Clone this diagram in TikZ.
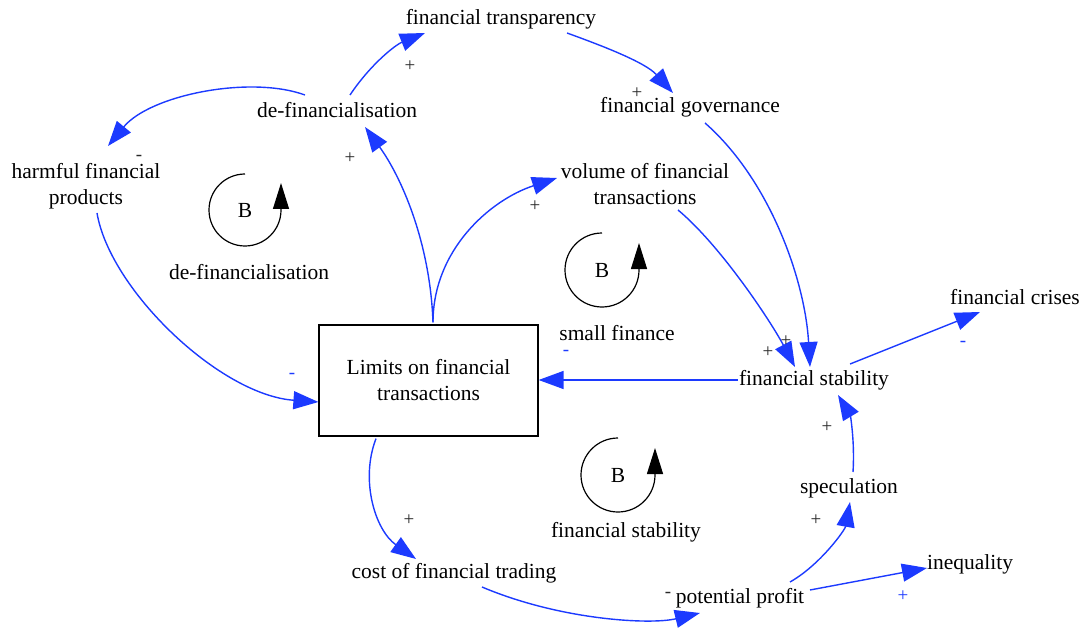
\documentclass[tikz,border=0pt]{standalone}
\usepackage{fontspec}
\setmainfont{Liberation Serif}
\usetikzlibrary{arrows.meta,calc}
\definecolor{linkblue}{RGB}{28,58,255}
\definecolor{signgray}{RGB}{40,40,40}
\begin{document}
\begin{tikzpicture}[x=1pt,y=1pt,
  var/.style={inner sep=1pt,align=center,font=\fontsize{21.5}{26}\selectfont},
  link/.style={draw=linkblue,line width=1.4pt,-{Triangle[length=25pt,width=18pt]},fill=none},
  pol/.style={inner sep=0pt,font=\fontsize{19}{20}\selectfont,text=signgray},
  polb/.style={pol,text=linkblue},
  loopar/.style={draw=black,line width=1.2pt,-{Triangle[length=26pt,width=16pt]}},
  looplbl/.style={inner sep=0pt,font=\fontsize{21.5}{26}\selectfont}]
\useasboundingbox (0,0) rectangle (1086,-628);
% variables
\node[var] (ft) at (501,-19) {financial transparency};
\node[var] (df) at (337,-110) {de-financialisation};
\node[var] (fg) at (690,-107) {financial governance};
\node[var] (hp) at (86,-186) {harmful financial\\products};
\node[var] (vol) at (645,-184) {volume of financial\\transactions};
\node[var,draw=black,line width=1.2pt,minimum width=219pt,minimum height=111pt] (lim) at (428.5,-380.5) {Limits on financial\\transactions};
\node[var] (fs) at (814,-380) {financial stability};
\node[var] (fc) at (1015,-297) {financial crises};
\node[var] (spec) at (849,-488) {speculation};
\node[var] (cost) at (454,-573) {cost of financial trading};
\node[var] (pp) at (740,-598) {potential profit};
\node[var] (ineq) at (970,-564) {inequality};
% loops
\node[looplbl] (b1) at (245,-210) {B};
\node[looplbl] (b2) at (602,-270) {B};
\node[looplbl] (b3) at (618,-475) {B};
\draw[loopar] ($(b1)+(0,36)$) arc[start angle=90,end angle=360,radius=36] -- ++(0,27);
\draw[loopar] ($(b2)+(0,37)$) arc[start angle=90,end angle=360,radius=37] -- ++(0,27);
\draw[loopar] ($(b3)+(0,37)$) arc[start angle=90,end angle=360,radius=37] -- ++(0,27);
\node[looplbl] (l1) at (249,-272) {de-financialisation};
\node[looplbl] (l2) at (617,-333) {small finance};
\node[looplbl] (l3) at (626,-532) {financial stability};
% connectors
\draw[link] ($(df)+(13,15)$) .. controls (370,-65) and (395,-45) .. ($(ft)+(-76,-14)$);
\draw[link] ($(ft)+(66,-14)$) .. controls (600,-45) and (645,-62) .. ($(fg)+(-17,14)$);
\draw[link] ($(df)+(-32,15)$) .. controls (250,-75) and (150,-95) .. ($(hp)+(22,40)$);
\draw[link] ($(hp)+(11,-27)$) .. controls (110,-290) and (220,-395) .. ($(lim.west)+(0,-21.5)$);
\draw[link] ($(lim.north)+(4.5,2)$) .. controls (430,-240) and (400,-175) .. ($(df)+(28,-17)$);
\draw[link] ($(lim.north)+(4.5,2)$) .. controls (433,-250) and (490,-200) .. ($(vol)+(-88,6)$);
\draw[link] ($(vol)+(33,-26)$) .. controls (720,-245) and (770,-320) .. ($(fs)+(-19,13)$);
\draw[link] ($(fg)+(15,-16)$) .. controls (770,-180) and (805,-280) .. ($(fs)+(-4,13)$);
\draw[link] (fs.west) -- (fs.west -| lim.east);
\draw[link] ($(fs)+(36,16)$) .. controls (890,-348) and (940,-328) .. ($(fc)+(-35,-15)$);
\draw[link] ($(lim.south)+(-52.5,-2)$) .. controls (360,-480) and (375,-530) .. ($(cost)+(-38,14)$);
\draw[link] ($(cost)+(28,-14)$) .. controls (560,-620) and (650,-625) .. ($(pp)+(-40,-15)$);
\draw[link] ($(pp)+(50,16)$) .. controls (820,-565) and (845,-530) .. ($(spec)+(1,-14)$);
\draw[link] ($(pp)+(70,8)$) -- ($(ineq)+(-43,-4)$);
\draw[link] ($(spec)+(4,16)$) .. controls (855,-440) and (850,-415) .. ($(fs)+(24,-15)$);
% polarities
\node[pol] (p1) at (410,-66) {+};
\node[pol] (p2) at (637,-93) {+};
\node[pol] (p3) at (139,-158) {-};
\node[polb] (p4) at (292,-376) {-};
\node[pol] (p5) at (350,-158) {+};
\node[pol] (p6) at (535,-206) {+};
\node[pol] (p7) at (786,-341) {+};
\node[pol] (p8) at (768,-352) {+};
\node[polb] (p9) at (566,-353) {-};
\node[polb] (p10) at (963,-344) {-};
\node[pol] (p11) at (409,-520) {+};
\node[pol] (p12) at (668,-595) {-};
\node[pol] (p13) at (816,-520) {+};
\node[polb] (p14) at (903,-596) {+};
\node[pol] (p15) at (827,-427) {+};
\end{tikzpicture}
\end{document}
